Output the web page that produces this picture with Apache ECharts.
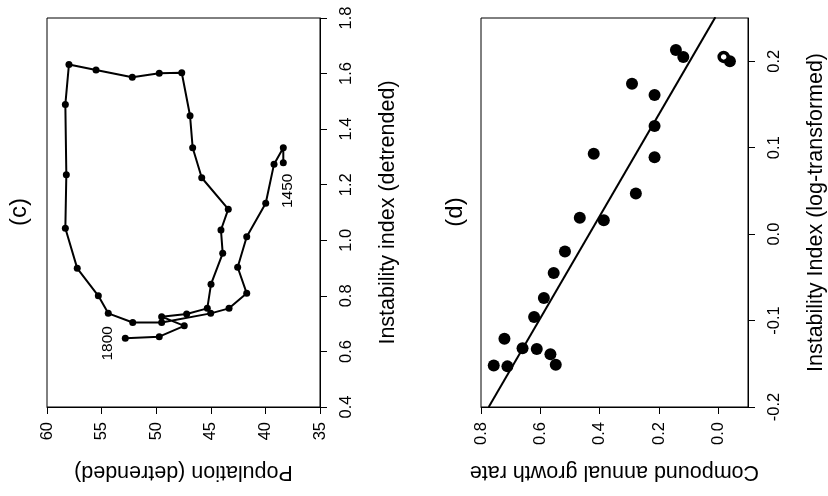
<!DOCTYPE html>
<html>
<head>
<meta charset="utf-8">
<script src="https://cdn.jsdelivr.net/npm/echarts@6/dist/echarts.min.js"></script>
<style>
  html, body { margin: 0; padding: 0; background: #fff; }
  #chart { width: 828px; height: 496px; }
</style>
</head>
<body>
<div id="chart"></div>
<script>
// Panel (c): population vs instability trajectory, 1450 -> 1800
const popC  = [38.36, 38.36, 39.21, 39.97, 41.71, 42.54, 41.71, 43.33, 45.01, 49.50,
               52.15, 54.39, 55.30, 57.23, 58.32, 58.23, 58.32, 57.99, 55.51, 52.19,
               49.72, 47.66, 46.90, 46.66, 45.83, 43.40, 44.07, 43.91, 44.98, 45.32,
               47.21, 49.50, 47.43, 49.72, 52.83];
const instC = [1.279, 1.333, 1.274, 1.133, 1.013, 0.903, 0.809, 0.755, 0.737, 0.704,
               0.704, 0.737, 0.800, 0.899, 1.043, 1.236, 1.489, 1.633, 1.613, 1.587,
               1.601, 1.603, 1.448, 1.333, 1.225, 1.112, 1.037, 0.953, 0.842, 0.755,
               0.735, 0.725, 0.692, 0.653, 0.647];
const startYear = '1450';
const endYear = '1800';
const popTicks = [35, 40, 45, 50, 55, 60];
const instTicksC = [0.4, 0.6, 0.8, 1.0, 1.2, 1.4, 1.6, 1.8];

// Panel (d): growth rate vs log instability
const growthD = [0.143, 0.118, 0.291, 0.215, 0.215, 0.420, 0.215, 0.278, 0.467, 0.386,
                 0.517, 0.555, 0.588, 0.621, 0.721, 0.660, 0.612, 0.566, 0.548, 0.757,
                 0.711, -0.039];
const instD   = [0.213, 0.205, 0.174, 0.161, 0.125, 0.093, 0.089, 0.047, 0.019, 0.016,
                 -0.020, -0.045, -0.074, -0.096, -0.121, -0.132, -0.133, -0.139, -0.151, -0.152,
                 -0.153, 0.200];
// hollow point drawn on top
const growthOpen = [-0.018];
const instOpen   = [0.205];
// regression line end points
const fitGrowth = [0.774, 0.010];
const fitInst   = [-0.200, 0.251];
const growthTicks = [0.0, 0.2, 0.4, 0.6, 0.8];
const instTicksD = [-0.2, -0.1, 0.0, 0.1, 0.2];

const FONT = '"Liberation Sans", Arial, sans-serif';
const BLACK = '#000';

function pairs(a, b) { return a.map((v, i) => [v, b[i]]); }

const trajData = pairs(popC, instC).map((p, i, arr) => {
  if (i === 0) {
    return { value: p, label: { show: true, formatter: startYear, rotate: 90,
      position: [7.5, 31.5], align: 'center', verticalAlign: 'middle',
      fontSize: 15.5, color: BLACK, fontFamily: FONT } };
  }
  if (i === arr.length - 1) {
    return { value: p, label: { show: true, formatter: endYear, rotate: 90,
      position: [-14.5, 8.5], align: 'center', verticalAlign: 'middle',
      fontSize: 15.5, color: BLACK, fontFamily: FONT } };
  }
  return p;
});

const axisCommon = {
  type: 'value',
  splitLine: { show: false },
  axisLine: { show: true, onZero: false, lineStyle: { color: BLACK, width: 1 } },
  axisTick: { show: true, inside: false, length: 7, lineStyle: { color: BLACK, width: 1 } },
  nameTextStyle: { fontSize: 21.5, color: BLACK, fontFamily: FONT },
};

const labelCommon = { rotate: 90, fontSize: 16.5, color: BLACK, fontFamily: FONT };

const option = {
  animation: false,
  backgroundColor: '#fff',
  grid: [
    { left: 47, top: 18, width: 273, height: 389, show: true, borderColor: BLACK, borderWidth: 1, backgroundColor: 'transparent' },
    { left: 481, top: 18, width: 272, height: 389, show: true, borderColor: BLACK, borderWidth: 1, backgroundColor: 'transparent' }
  ],
  xAxis: [
    Object.assign({}, axisCommon, {
      gridIndex: 0, position: 'bottom', min: 35, max: 60, interval: 5, inverse: true,
      name: 'Population (detrended)', nameLocation: 'middle', nameGap: 54, nameRotate: 180,
      axisLabel: Object.assign({}, labelCommon, { margin: 15, customValues: popTicks, formatter: v => String(v) }),
      axisTick: Object.assign({}, axisCommon.axisTick, { customValues: popTicks })
    }),
    Object.assign({}, axisCommon, {
      gridIndex: 1, position: 'bottom', min: -0.1, max: 0.8, inverse: true,
      name: 'Compound annual growth rate', nameLocation: 'middle', nameGap: 54, nameRotate: 180,
      axisLabel: Object.assign({}, labelCommon, { margin: 15, customValues: growthTicks, formatter: v => v.toFixed(1) }),
      axisTick: Object.assign({}, axisCommon.axisTick, { customValues: growthTicks })
    })
  ],
  yAxis: [
    Object.assign({}, axisCommon, {
      gridIndex: 0, position: 'right', min: 0.4, max: 1.8, interval: 0.2,
      name: 'Instability index (detrended)', nameLocation: 'middle', nameGap: 57, nameRotate: 90,
      axisLabel: Object.assign({}, labelCommon, { margin: 18, customValues: instTicksC, formatter: v => v.toFixed(1) }),
      axisTick: Object.assign({}, axisCommon.axisTick, { customValues: instTicksC })
    }),
    Object.assign({}, axisCommon, {
      gridIndex: 1, position: 'right', min: -0.2, max: 0.25,
      name: 'Instability Index (log-transformed)', nameLocation: 'middle', nameGap: 57, nameRotate: 90,
      axisLabel: Object.assign({}, labelCommon, { margin: 18, customValues: instTicksD, formatter: v => v.toFixed(1) }),
      axisTick: Object.assign({}, axisCommon.axisTick, { customValues: instTicksD })
    })
  ],
  graphic: [
    { type: 'text', x: 19, y: 212, rotation: Math.PI / 2,
      style: { text: '(c)', font: '24px ' + FONT, fill: BLACK, align: 'center', verticalAlign: 'middle' } },
    { type: 'text', x: 455, y: 212, rotation: Math.PI / 2,
      style: { text: '(d)', font: '24px ' + FONT, fill: BLACK, align: 'center', verticalAlign: 'middle' } }
  ],
  series: [
    {
      type: 'line', xAxisIndex: 0, yAxisIndex: 0, data: trajData,
      symbol: 'circle', symbolSize: 7, showAllSymbol: true,
      lineStyle: { color: BLACK, width: 2 }, itemStyle: { color: BLACK, opacity: 1 },
      emphasis: { disabled: true }
    },
    {
      type: 'line', xAxisIndex: 1, yAxisIndex: 1, data: pairs(fitGrowth, fitInst),
      symbol: 'none', lineStyle: { color: BLACK, width: 2 }, clip: true,
      emphasis: { disabled: true }
    },
    {
      type: 'scatter', xAxisIndex: 1, yAxisIndex: 1, data: pairs(growthD, instD),
      symbol: 'circle', symbolSize: 12, itemStyle: { color: BLACK, opacity: 1 },
      emphasis: { disabled: true }
    },
    {
      type: 'scatter', xAxisIndex: 1, yAxisIndex: 1, data: pairs(growthOpen, instOpen),
      symbol: 'circle', symbolSize: 9, itemStyle: { color: '#fff', borderColor: BLACK, borderWidth: 3.5, opacity: 1 },
      emphasis: { disabled: true }
    }
  ]
};

const chart = echarts.init(document.getElementById('chart'));
chart.setOption(option);
</script>
</body>
</html>
